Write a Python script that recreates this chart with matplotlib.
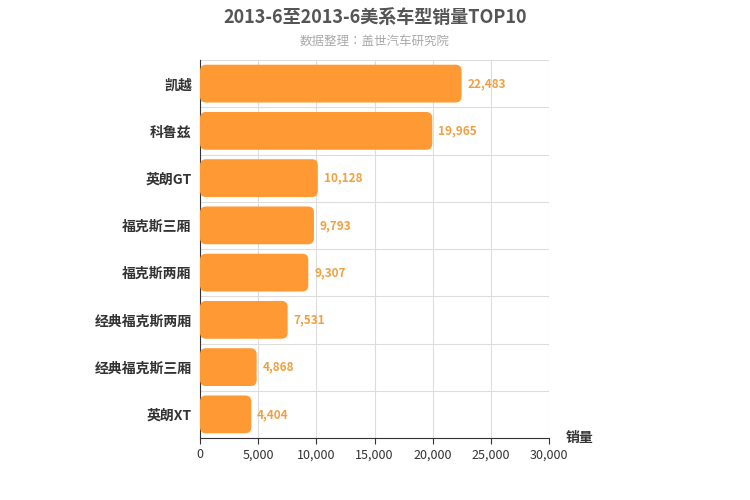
import matplotlib
matplotlib.use("Agg")
import matplotlib.pyplot as plt
from matplotlib.patches import FancyBboxPatch

plt.rcParams['font.family'] = ['Noto Sans CJK SC', 'Noto Sans CJK JP', 'Noto Sans CJK TC', 'Noto Sans CJK KR', 'DejaVu Sans']

categories = ["凯越", "科鲁兹", "英朗GT", "福克斯三厢", "福克斯两厢", "经典福克斯两厢", "经典福克斯三厢", "英朗XT"]
values = [22483, 19965, 10128, 9793, 9307, 7531, 4868, 4404]
xticks = [0, 5000, 10000, 15000, 20000, 25000, 30000]

fig = plt.figure(figsize=(7.5, 5), dpi=100)
ax = fig.add_axes([200/750, 1-438/500, 349/750, 378/500])
n = len(categories)
ax.set_xlim(0, 30000)
ax.set_ylim(-0.5, n-0.5)
ax.invert_yaxis()

xpp = 30000/349
ypp = n/378
h = 0.8
for i, v in enumerate(values):
    p = FancyBboxPatch((0, i-h/2), v, h, boxstyle="round,pad=0,rounding_size=%f" % (6*xpp),
                       mutation_aspect=ypp/xpp, fc="#ff9933", ec="none", zorder=3)
    ax.add_patch(p)
    ax.text(v + 500, i, f"{v:,}", va="center", ha="left", fontsize=8.5,
            color="#f0a040", fontweight="bold", zorder=4)

ax.set_yticks(range(n))
ax.set_yticklabels(categories, fontsize=10, fontweight="bold", color="#333333")
ax.set_xticks(xticks)
ax.set_xticklabels([f"{t:,}" for t in xticks], fontsize=9, color="#333333")
for t in xticks[1:]:
    ax.axvline(t, color="#dddddd", lw=0.8, zorder=1)
for k in range(n):
    ax.axhline(k - 0.5, color="#dddddd", lw=0.8, zorder=1)
for s in ["top", "right"]:
    ax.spines[s].set_visible(False)
ax.spines["left"].set_color("#333333")
ax.spines["bottom"].set_color("#333333")
ax.tick_params(axis="y", length=0, pad=6)
ax.tick_params(axis="x", length=4, color="#333333")

fig.text(0.5, 0.965, "2013-6至2013-6美系车型销量TOP10", ha="center", va="center",
         fontsize=13, fontweight="bold", color="#555555")
fig.text(0.5, 0.918, "数据整理：盖世汽车研究院", ha="center", va="center", fontsize=9, color="#aaaaaa")
fig.text(580/750, 1-438/500, "销量", ha="center", va="center", fontsize=10, fontweight="bold", color="#333333")

fig.savefig("out.png", dpi=100)
